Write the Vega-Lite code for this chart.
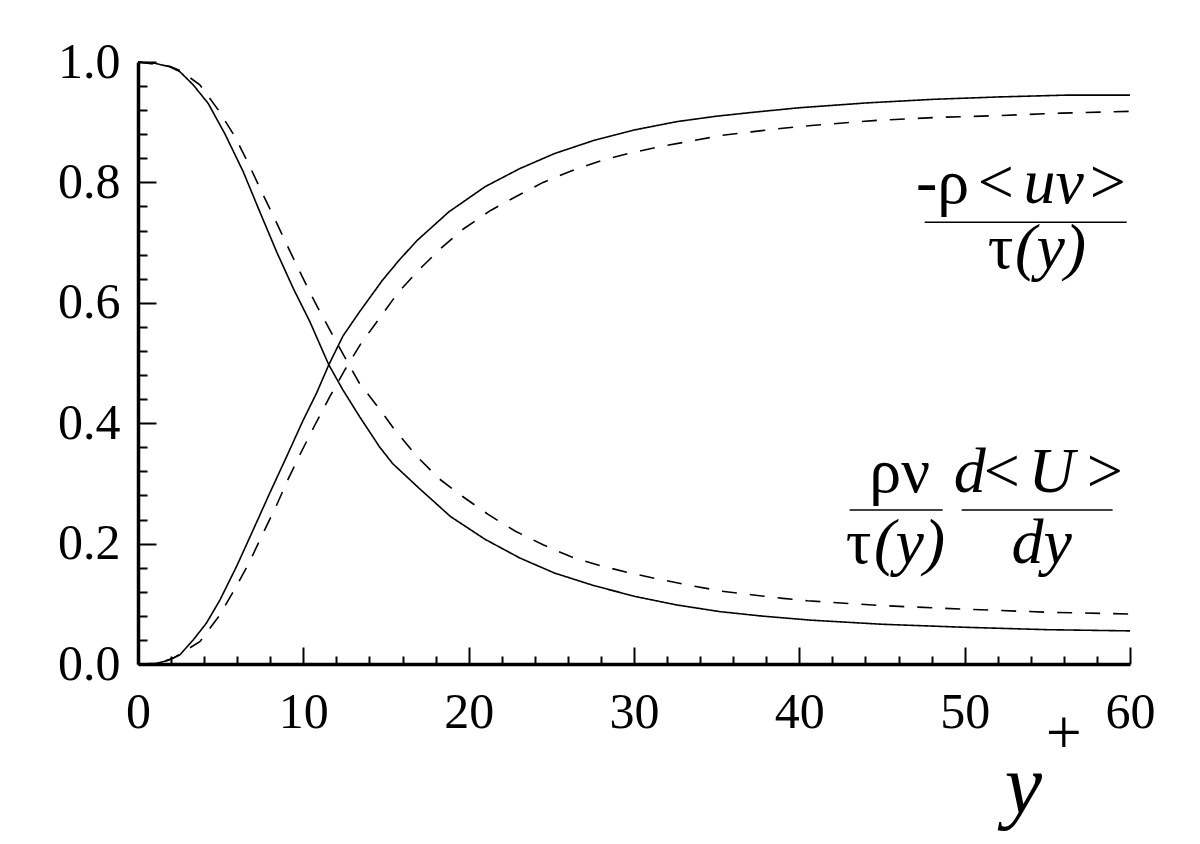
{
  "$schema": "https://vega.github.io/schema/vega-lite/v6.json",
  "width": 992,
  "height": 602,
  "autosize": {"type": "none"},
  "padding": {"left": 138, "top": 62, "right": 70, "bottom": 180},
  "background": "white",
  "config": {"view": {"stroke": null}, "font": "Liberation Serif", "axis": {"labelOverlap": false, "labelFlush": false, "labelBound": false}},
  "datasets": {
    "curves": [
      {"yplus": 0, "ratio": 1.0, "case": "A", "term": "viscous"},
      {"yplus": 1.0, "ratio": 0.998, "case": "A", "term": "viscous"},
      {"yplus": 1.92, "ratio": 0.992, "case": "A", "term": "viscous"},
      {"yplus": 2.53, "ratio": 0.984, "case": "A", "term": "viscous"},
      {"yplus": 3.34, "ratio": 0.962, "case": "A", "term": "viscous"},
      {"yplus": 4.25, "ratio": 0.931, "case": "A", "term": "viscous"},
      {"yplus": 5.25, "ratio": 0.881, "case": "A", "term": "viscous"},
      {"yplus": 6.36, "ratio": 0.818, "case": "A", "term": "viscous"},
      {"yplus": 7.37, "ratio": 0.751, "case": "A", "term": "viscous"},
      {"yplus": 8.38, "ratio": 0.685, "case": "A", "term": "viscous"},
      {"yplus": 9.39, "ratio": 0.624, "case": "A", "term": "viscous"},
      {"yplus": 10.39, "ratio": 0.569, "case": "A", "term": "viscous"},
      {"yplus": 11.54, "ratio": 0.497, "case": "A", "term": "viscous"},
      {"yplus": 12.4, "ratio": 0.455, "case": "A", "term": "viscous"},
      {"yplus": 13.4, "ratio": 0.411, "case": "A", "term": "viscous"},
      {"yplus": 14.6, "ratio": 0.361, "case": "A", "term": "viscous"},
      {"yplus": 15.4, "ratio": 0.333, "case": "A", "term": "viscous"},
      {"yplus": 17.0, "ratio": 0.292, "case": "A", "term": "viscous"},
      {"yplus": 18.9, "ratio": 0.245, "case": "A", "term": "viscous"},
      {"yplus": 21.0, "ratio": 0.207, "case": "A", "term": "viscous"},
      {"yplus": 23.1, "ratio": 0.176, "case": "A", "term": "viscous"},
      {"yplus": 25.2, "ratio": 0.151, "case": "A", "term": "viscous"},
      {"yplus": 27.6, "ratio": 0.130, "case": "A", "term": "viscous"},
      {"yplus": 30.1, "ratio": 0.112, "case": "A", "term": "viscous"},
      {"yplus": 32.6, "ratio": 0.098, "case": "A", "term": "viscous"},
      {"yplus": 35.2, "ratio": 0.087, "case": "A", "term": "viscous"},
      {"yplus": 37.6, "ratio": 0.080, "case": "A", "term": "viscous"},
      {"yplus": 40.6, "ratio": 0.073, "case": "A", "term": "viscous"},
      {"yplus": 45, "ratio": 0.066, "case": "A", "term": "viscous"},
      {"yplus": 50, "ratio": 0.061, "case": "A", "term": "viscous"},
      {"yplus": 55, "ratio": 0.057, "case": "A", "term": "viscous"},
      {"yplus": 60, "ratio": 0.055, "case": "A", "term": "viscous"},

      {"yplus": 0, "ratio": 0.0, "case": "A", "term": "turbulent"},
      {"yplus": 1.12, "ratio": 0.001, "case": "A", "term": "turbulent"},
      {"yplus": 1.92, "ratio": 0.007, "case": "A", "term": "turbulent"},
      {"yplus": 2.53, "ratio": 0.015, "case": "A", "term": "turbulent"},
      {"yplus": 3.34, "ratio": 0.040, "case": "A", "term": "turbulent"},
      {"yplus": 4.14, "ratio": 0.068, "case": "A", "term": "turbulent"},
      {"yplus": 4.95, "ratio": 0.106, "case": "A", "term": "turbulent"},
      {"yplus": 5.96, "ratio": 0.162, "case": "A", "term": "turbulent"},
      {"yplus": 6.97, "ratio": 0.223, "case": "A", "term": "turbulent"},
      {"yplus": 7.97, "ratio": 0.284, "case": "A", "term": "turbulent"},
      {"yplus": 8.98, "ratio": 0.344, "case": "A", "term": "turbulent"},
      {"yplus": 9.99, "ratio": 0.405, "case": "A", "term": "turbulent"},
      {"yplus": 10.8, "ratio": 0.45, "case": "A", "term": "turbulent"},
      {"yplus": 11.54, "ratio": 0.497, "case": "A", "term": "turbulent"},
      {"yplus": 12.4, "ratio": 0.545, "case": "A", "term": "turbulent"},
      {"yplus": 13.4, "ratio": 0.585, "case": "A", "term": "turbulent"},
      {"yplus": 14.8, "ratio": 0.638, "case": "A", "term": "turbulent"},
      {"yplus": 15.8, "ratio": 0.671, "case": "A", "term": "turbulent"},
      {"yplus": 16.9, "ratio": 0.704, "case": "A", "term": "turbulent"},
      {"yplus": 18.8, "ratio": 0.751, "case": "A", "term": "turbulent"},
      {"yplus": 21.0, "ratio": 0.793, "case": "A", "term": "turbulent"},
      {"yplus": 23.1, "ratio": 0.823, "case": "A", "term": "turbulent"},
      {"yplus": 25.2, "ratio": 0.848, "case": "A", "term": "turbulent"},
      {"yplus": 27.6, "ratio": 0.870, "case": "A", "term": "turbulent"},
      {"yplus": 30.0, "ratio": 0.887, "case": "A", "term": "turbulent"},
      {"yplus": 32.6, "ratio": 0.901, "case": "A", "term": "turbulent"},
      {"yplus": 35.0, "ratio": 0.910, "case": "A", "term": "turbulent"},
      {"yplus": 37.4, "ratio": 0.917, "case": "A", "term": "turbulent"},
      {"yplus": 40.0, "ratio": 0.924, "case": "A", "term": "turbulent"},
      {"yplus": 44.05, "ratio": 0.932, "case": "A", "term": "turbulent"},
      {"yplus": 48.1, "ratio": 0.938, "case": "A", "term": "turbulent"},
      {"yplus": 52.1, "ratio": 0.942, "case": "A", "term": "turbulent"},
      {"yplus": 56.2, "ratio": 0.945, "case": "A", "term": "turbulent"},
      {"yplus": 60, "ratio": 0.945, "case": "A", "term": "turbulent"},

      {"yplus": 0, "ratio": 1.0, "case": "B", "term": "viscous"},
      {"yplus": 1.92, "ratio": 0.993, "case": "B", "term": "viscous"},
      {"yplus": 2.6, "ratio": 0.985, "case": "B", "term": "viscous"},
      {"yplus": 3.74, "ratio": 0.962, "case": "B", "term": "viscous"},
      {"yplus": 4.89, "ratio": 0.919, "case": "B", "term": "viscous"},
      {"yplus": 5.86, "ratio": 0.876, "case": "B", "term": "viscous"},
      {"yplus": 6.67, "ratio": 0.832, "case": "B", "term": "viscous"},
      {"yplus": 7.47, "ratio": 0.785, "case": "B", "term": "viscous"},
      {"yplus": 8.28, "ratio": 0.739, "case": "B", "term": "viscous"},
      {"yplus": 9.08, "ratio": 0.692, "case": "B", "term": "viscous"},
      {"yplus": 9.89, "ratio": 0.646, "case": "B", "term": "viscous"},
      {"yplus": 10.7, "ratio": 0.601, "case": "B", "term": "viscous"},
      {"yplus": 11.6, "ratio": 0.555, "case": "B", "term": "viscous"},
      {"yplus": 12.6, "ratio": 0.505, "case": "B", "term": "viscous"},
      {"yplus": 13.4, "ratio": 0.466, "case": "B", "term": "viscous"},
      {"yplus": 14.57, "ratio": 0.425, "case": "B", "term": "viscous"},
      {"yplus": 15.5, "ratio": 0.39, "case": "B", "term": "viscous"},
      {"yplus": 16.9, "ratio": 0.344, "case": "B", "term": "viscous"},
      {"yplus": 18.2, "ratio": 0.308, "case": "B", "term": "viscous"},
      {"yplus": 19.7, "ratio": 0.277, "case": "B", "term": "viscous"},
      {"yplus": 21.2, "ratio": 0.248, "case": "B", "term": "viscous"},
      {"yplus": 22.8, "ratio": 0.221, "case": "B", "term": "viscous"},
      {"yplus": 24.5, "ratio": 0.198, "case": "B", "term": "viscous"},
      {"yplus": 26.2, "ratio": 0.178, "case": "B", "term": "viscous"},
      {"yplus": 28.0, "ratio": 0.163, "case": "B", "term": "viscous"},
      {"yplus": 29.8, "ratio": 0.151, "case": "B", "term": "viscous"},
      {"yplus": 31.65, "ratio": 0.140, "case": "B", "term": "viscous"},
      {"yplus": 33.5, "ratio": 0.130, "case": "B", "term": "viscous"},
      {"yplus": 35.3, "ratio": 0.121, "case": "B", "term": "viscous"},
      {"yplus": 37.1, "ratio": 0.115, "case": "B", "term": "viscous"},
      {"yplus": 39.0, "ratio": 0.109, "case": "B", "term": "viscous"},
      {"yplus": 40.5, "ratio": 0.105, "case": "B", "term": "viscous"},
      {"yplus": 45, "ratio": 0.097, "case": "B", "term": "viscous"},
      {"yplus": 50, "ratio": 0.091, "case": "B", "term": "viscous"},
      {"yplus": 55, "ratio": 0.086, "case": "B", "term": "viscous"},
      {"yplus": 60, "ratio": 0.083, "case": "B", "term": "viscous"},

      {"yplus": 0, "ratio": 0.0, "case": "B", "term": "turbulent"},
      {"yplus": 1.2, "ratio": 0.0, "case": "B", "term": "turbulent"},
      {"yplus": 2.2, "ratio": 0.011, "case": "B", "term": "turbulent"},
      {"yplus": 3.74, "ratio": 0.037, "case": "B", "term": "turbulent"},
      {"yplus": 4.89, "ratio": 0.079, "case": "B", "term": "turbulent"},
      {"yplus": 5.8, "ratio": 0.122, "case": "B", "term": "turbulent"},
      {"yplus": 6.7, "ratio": 0.167, "case": "B", "term": "turbulent"},
      {"yplus": 7.51, "ratio": 0.214, "case": "B", "term": "turbulent"},
      {"yplus": 8.32, "ratio": 0.26, "case": "B", "term": "turbulent"},
      {"yplus": 9.08, "ratio": 0.307, "case": "B", "term": "turbulent"},
      {"yplus": 9.89, "ratio": 0.353, "case": "B", "term": "turbulent"},
      {"yplus": 10.7, "ratio": 0.397, "case": "B", "term": "turbulent"},
      {"yplus": 11.6, "ratio": 0.444, "case": "B", "term": "turbulent"},
      {"yplus": 12.5, "ratio": 0.488, "case": "B", "term": "turbulent"},
      {"yplus": 13.5, "ratio": 0.533, "case": "B", "term": "turbulent"},
      {"yplus": 14.6, "ratio": 0.574, "case": "B", "term": "turbulent"},
      {"yplus": 15.7, "ratio": 0.616, "case": "B", "term": "turbulent"},
      {"yplus": 17.0, "ratio": 0.655, "case": "B", "term": "turbulent"},
      {"yplus": 18.3, "ratio": 0.69, "case": "B", "term": "turbulent"},
      {"yplus": 19.7, "ratio": 0.723, "case": "B", "term": "turbulent"},
      {"yplus": 21.3, "ratio": 0.753, "case": "B", "term": "turbulent"},
      {"yplus": 22.9, "ratio": 0.777, "case": "B", "term": "turbulent"},
      {"yplus": 24.5, "ratio": 0.80, "case": "B", "term": "turbulent"},
      {"yplus": 26.2, "ratio": 0.819, "case": "B", "term": "turbulent"},
      {"yplus": 28.0, "ratio": 0.836, "case": "B", "term": "turbulent"},
      {"yplus": 29.8, "ratio": 0.849, "case": "B", "term": "turbulent"},
      {"yplus": 31.7, "ratio": 0.86, "case": "B", "term": "turbulent"},
      {"yplus": 33.5, "ratio": 0.869, "case": "B", "term": "turbulent"},
      {"yplus": 35.3, "ratio": 0.878, "case": "B", "term": "turbulent"},
      {"yplus": 37.1, "ratio": 0.884, "case": "B", "term": "turbulent"},
      {"yplus": 39.0, "ratio": 0.89, "case": "B", "term": "turbulent"},
      {"yplus": 40.9, "ratio": 0.895, "case": "B", "term": "turbulent"},
      {"yplus": 44.7, "ratio": 0.903, "case": "B", "term": "turbulent"},
      {"yplus": 48.4, "ratio": 0.908, "case": "B", "term": "turbulent"},
      {"yplus": 52.1, "ratio": 0.911, "case": "B", "term": "turbulent"},
      {"yplus": 55.85, "ratio": 0.915, "case": "B", "term": "turbulent"},
      {"yplus": 60, "ratio": 0.918, "case": "B", "term": "turbulent"}
    ],
    "labels": [
      {"yplus": 48.67, "ratio": 0.766, "text": "-ρ", "role": "upright"},
      {"yplus": 51.88, "ratio": 0.766, "text": "<", "role": "upright"},
      {"yplus": 55.39, "ratio": 0.766, "text": "uv", "role": "variable"},
      {"yplus": 58.65, "ratio": 0.766, "text": ">", "role": "upright"},
      {"yplus": 52.18, "ratio": 0.658, "text": "τ", "role": "upright"},
      {"yplus": 55.2, "ratio": 0.658, "text": "(y)", "role": "variable"},
      {"yplus": 46.07, "ratio": 0.286, "text": "ρν", "role": "upright"},
      {"yplus": 50.3, "ratio": 0.286, "text": "d", "role": "variable"},
      {"yplus": 52.24, "ratio": 0.286, "text": "<", "role": "upright"},
      {"yplus": 55.26, "ratio": 0.286, "text": "U", "role": "variable"},
      {"yplus": 58.47, "ratio": 0.286, "text": ">", "role": "upright"},
      {"yplus": 43.59, "ratio": 0.168, "text": "τ", "role": "upright"},
      {"yplus": 46.67, "ratio": 0.168, "text": "(y)", "role": "variable"},
      {"yplus": 54.66, "ratio": 0.168, "text": "dy", "role": "variable"},
      {"yplus": 55.99, "ratio": -0.15, "text": "+", "role": "upright"}
    ],
    "bars": [
      {"yplus": 47.58, "yplus_end": 59.8, "ratio": 0.734},
      {"yplus": 43.04, "yplus_end": 48.67, "ratio": 0.256},
      {"yplus": 49.82, "yplus_end": 58.95, "ratio": 0.256}
    ]
  },
  "layer": [
    {
      "data": {"name": "curves"},
      "mark": {"type": "line", "color": "black", "strokeWidth": 1.6},
      "encoding": {
        "x": {
          "field": "yplus",
          "type": "quantitative",
          "scale": {"domain": [0, 60], "nice": false, "zero": false},
          "axis": {
            "values": [0, 2, 4, 6, 8, 10, 12, 14, 16, 18, 20, 22, 24, 26, 28, 30, 32, 34, 36, 38, 40, 42, 44, 46, 48, 50, 52, 54, 56, 58, 60],
            "tickCount": 200,
            "labelExpr": "datum.value % 10 === 0 ? format(datum.value, 'd') : ''",
            "tickSize": {"condition": {"test": "datum.value % 10 === 0", "value": -17}, "value": -8},
            "labelPadding": 40,
            "labelFont": "Liberation Serif",
            "labelFontSize": 50,
            "labelColor": "black",
            "labelFlush": false,
            "labelOverlap": false,
            "domainColor": "black",
            "domainWidth": 3.5,
            "tickColor": "black",
            "tickWidth": 2,
            "grid": false,
            "title": "y",
            "titleFont": "Liberation Serif",
            "titleFontStyle": "italic",
            "titleFontWeight": "normal",
            "titleFontSize": 84,
            "titleColor": "black",
            "titleX": 885,
            "titleY": 148,
            "titleAlign": "center",
            "titleBaseline": "alphabetic"
          }
        },
        "y": {
          "field": "ratio",
          "type": "quantitative",
          "scale": {"domain": [0, 1], "nice": false},
          "axis": {
            "values": [0, 0.04, 0.08, 0.12, 0.16, 0.2, 0.24, 0.28, 0.32, 0.36, 0.4, 0.44, 0.48, 0.52, 0.56, 0.6, 0.64, 0.68, 0.72, 0.76, 0.8, 0.84, 0.88, 0.92, 0.96, 1.0],
            "tickCount": 200,
            "labelExpr": "abs(datum.value * 5 - round(datum.value * 5)) < 0.001 ? format(datum.value, '.1f') : ''",
            "tickSize": {"condition": {"test": "abs(datum.value * 5 - round(datum.value * 5)) < 0.001", "value": -18}, "value": -9},
            "labelPadding": 36,
            "labelFont": "Liberation Serif",
            "labelFontSize": 50,
            "labelColor": "black",
            "labelFlush": false,
            "labelOverlap": false,
            "domainColor": "black",
            "domainWidth": 3.5,
            "tickColor": "black",
            "tickWidth": 2,
            "grid": false,
            "title": null
          }
        },
        "strokeDash": {
          "field": "case",
          "type": "nominal",
          "scale": {"domain": ["A", "B"], "range": [[1, 0], [15, 13]]},
          "legend": null
        },
        "detail": {"field": "term"}
      }
    },
    {
      "data": {"name": "bars"},
      "mark": {"type": "rule", "color": "black", "strokeWidth": 1.5},
      "encoding": {
        "x": {"field": "yplus", "type": "quantitative"},
        "x2": {"field": "yplus_end"},
        "y": {"field": "ratio", "type": "quantitative"}
      }
    },
    {
      "data": {"name": "labels"},
      "transform": [{"filter": "datum.role === 'upright'"}],
      "mark": {"type": "text", "font": "Liberation Serif", "fontSize": 64, "align": "center", "baseline": "alphabetic", "color": "black"},
      "encoding": {
        "x": {"field": "yplus", "type": "quantitative"},
        "y": {"field": "ratio", "type": "quantitative"},
        "text": {"field": "text"}
      }
    },
    {
      "data": {"name": "labels"},
      "transform": [{"filter": "datum.role === 'variable'"}],
      "mark": {"type": "text", "font": "Liberation Serif", "fontSize": 64, "fontStyle": "italic", "align": "center", "baseline": "alphabetic", "color": "black"},
      "encoding": {
        "x": {"field": "yplus", "type": "quantitative"},
        "y": {"field": "ratio", "type": "quantitative"},
        "text": {"field": "text"}
      }
    }
  ]
}
